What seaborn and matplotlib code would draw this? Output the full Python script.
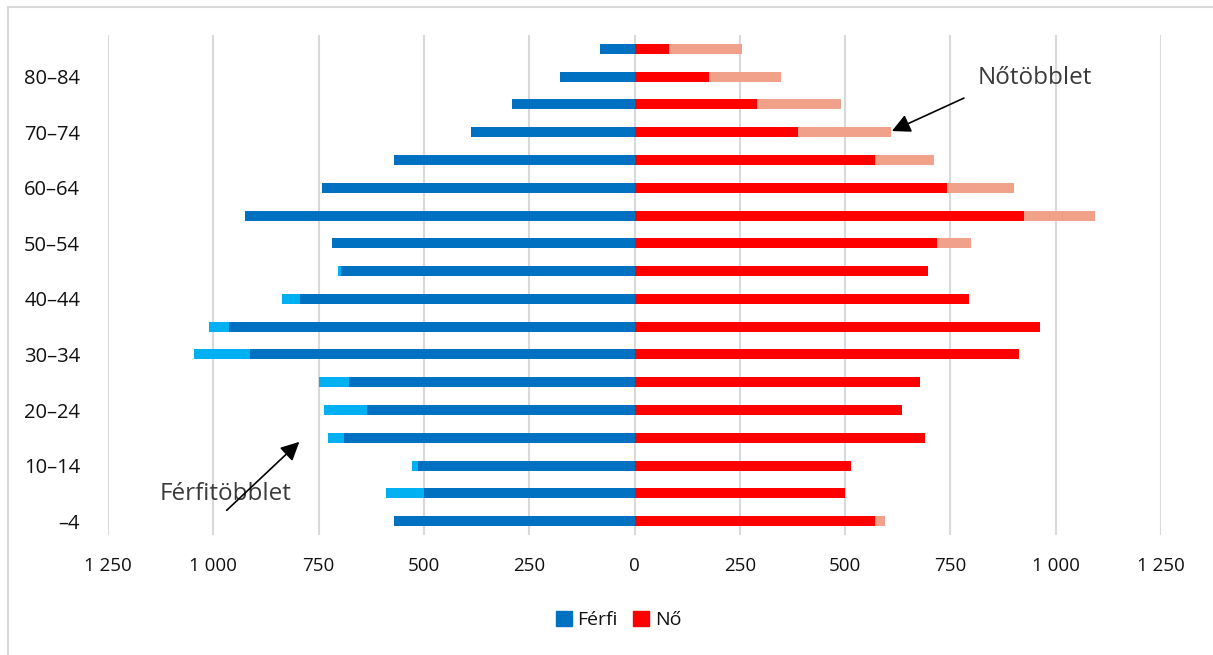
import numpy as np
import pandas as pd
import seaborn as sns
import matplotlib.pyplot as plt
from matplotlib.patches import Rectangle

# age groups from youngest to oldest
ages = ["0–4", "5–9", "10–14", "15–19", "20–24", "25–29", "30–34", "35–39", "40–44",
        "45–49", "50–54", "55–59", "60–64", "65–69", "70–74", "75–79", "80–84", "85–"]
tick_labels = ["–4", "", "10–14", "", "20–24", "", "30–34", "", "40–44",
               "", "50–54", "", "60–64", "", "70–74", "", "80–84", ""]
male = [572, 591, 529, 727, 738, 748, 1045, 1011, 836, 705, 719, 924, 743, 570, 389, 292, 178, 81]
female = [594, 499, 515, 689, 634, 677, 912, 962, 793, 696, 798, 1094, 900, 710, 610, 491, 349, 256]
x_ticks = [-1250, -1000, -750, -500, -250, 0, 250, 500, 750, 1000, 1250]

DARK_BLUE = "#0070C0"
LIGHT_BLUE = "#00B0F0"
RED = "#FF0000"
SALMON = "#F1A08A"

df = pd.DataFrame({"age": ages, "male": male, "female": female})
df["common"] = df[["male", "female"]].min(axis=1)
order = ages[::-1]  # seaborn puts the first category on top

sns.set_style("white")
plt.rcParams["font.family"] = ["Open Sans", "DejaVu Sans"]

fig = plt.figure(figsize=(12.13, 6.55), dpi=100)
ax = fig.add_axes([108 / 1213, 1 - 535 / 655, (1161 - 108) / 1213, 500 / 655])

bw = 0.36
layers = [(-df["male"], LIGHT_BLUE, 2), (-df["common"], DARK_BLUE, 3),
          (df["female"], SALMON, 2), (df["common"], RED, 3)]
for vals, col, z in layers:
    sns.barplot(x=vals, y=df["age"], order=order, color=col, width=bw, saturation=1,
                orient="h", linewidth=0, ax=ax, zorder=z)

ax.set_xlim(-1250, 1250)
ax.set_ylim(len(ages) - 0.5, -0.5)
for v in x_ticks:
    ax.axvline(v, color="#d9d9d9", lw=1.5, zorder=1)
ax.set_xticks(x_ticks)
ax.set_xticklabels([f"{abs(v):,}".replace(",", " ") for v in x_ticks], fontsize=13.5)
ax.set_yticks(range(len(order)))
ax.set_yticklabels(tick_labels[::-1], fontsize=14.5)
ax.tick_params(axis="x", length=0, pad=16, labelcolor="#111111")
ax.tick_params(axis="y", length=0, pad=20, labelcolor="#111111")
ax.set_xlabel("")
ax.set_ylabel("")
for s in ax.spines.values():
    s.set_visible(False)

# annotations
ax.annotate("", xy=(605, 3.0), xytext=(788, 1.73),
            arrowprops=dict(arrowstyle="-|>", color="black", lw=1.2, mutation_scale=28), zorder=5)
ax.text(950, 1.05, "Nőtöbblet", fontsize=17.5, color="#3a3a3a", ha="center", va="center")
ax.annotate("", xy=(-791, 14.08), xytext=(-973, 16.68),
            arrowprops=dict(arrowstyle="-|>", color="black", lw=1.2, mutation_scale=28), zorder=5)
ax.text(-971, 16.03, "Férfitöbblet", fontsize=17.5, color="#3a3a3a", ha="center", va="center")

# legend
handles = [Rectangle((0, 0), 1, 1, color=DARK_BLUE), Rectangle((0, 0), 1, 1, color=RED)]
leg = fig.legend(handles, ["Férfi", "Nő"], loc="center", bbox_to_anchor=(0.51, 0.053), ncol=2,
                 frameon=False, fontsize=14, handlelength=0.8, handleheight=0.8,
                 handletextpad=0.3, columnspacing=0.8)
for t in leg.get_texts():
    t.set_color("#111111")

# outer chart border
fig.add_artist(Rectangle((8 / 1213, -0.1), 1.2, 1 - 7 / 655 + 0.1, transform=fig.transFigure,
                         fill=False, edgecolor="#d9d9d9", lw=1.5))

fig.savefig("out.png", dpi=100)
